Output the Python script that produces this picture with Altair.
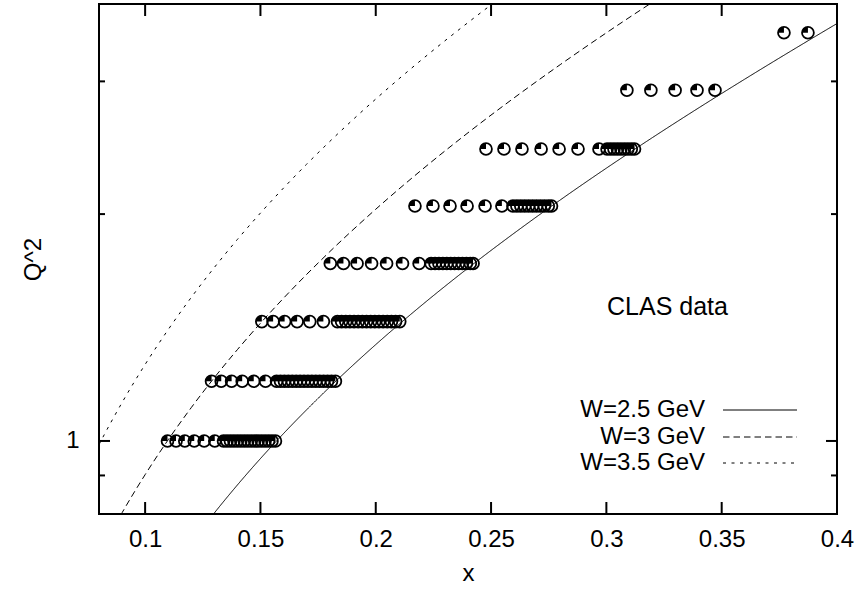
import altair as alt
import pandas as pd

# ---------------- data ----------------
q2_rows = [1.0, 1.2, 1.44, 1.72, 2.05, 2.44, 2.92, 3.48]

x_row_100 = [0.1097, 0.1134, 0.1172, 0.1213, 0.1256, 0.1302,
             0.1340, 0.1355, 0.1370, 0.1385, 0.1400, 0.1415, 0.1430, 0.1445,
             0.1460, 0.1475, 0.1490, 0.1505, 0.1520, 0.1535, 0.1550, 0.1565]
x_row_120 = [0.1288, 0.1330, 0.1375, 0.1421, 0.1471, 0.1522,
             0.1570, 0.1587, 0.1604, 0.1621, 0.1638, 0.1655, 0.1672, 0.1689,
             0.1706, 0.1723, 0.1740, 0.1757, 0.1774, 0.1791, 0.1808, 0.1825]
x_row_144 = [0.1506, 0.1555, 0.1605, 0.1659, 0.1714, 0.1773,
             0.1834, 0.1852, 0.1870, 0.1888, 0.1906, 0.1924, 0.1942, 0.1960,
             0.1978, 0.1996, 0.2014, 0.2032, 0.2050, 0.2068, 0.2086, 0.2104]
x_row_172 = [0.1803, 0.1860, 0.1919, 0.1982, 0.2047, 0.2116, 0.2188,
             0.2240, 0.2257, 0.2274, 0.2291, 0.2308, 0.2325, 0.2342, 0.2359,
             0.2376, 0.2393, 0.2410, 0.2422]
x_row_205 = [0.2170, 0.2248, 0.2322, 0.2396, 0.2474, 0.2547,
             0.2595, 0.2612, 0.2629, 0.2646, 0.2663, 0.2680, 0.2697, 0.2714,
             0.2731, 0.2748, 0.2762]
x_row_244 = [0.2478, 0.2556, 0.2634, 0.2717, 0.2795, 0.2877, 0.2968,
             0.3003, 0.3018, 0.3033, 0.3048, 0.3063, 0.3078, 0.3093, 0.3108, 0.3122]
x_row_292 = [0.3089, 0.3193, 0.3298, 0.3393, 0.3471]
x_row_348 = [0.3770, 0.3874]

x_rows = [x_row_100, x_row_120, x_row_144, x_row_172,
          x_row_205, x_row_244, x_row_292, x_row_348]

# W = const curves (x, Q^2)
w25_x = [0.125, 0.13, 0.14, 0.15, 0.16, 0.17, 0.18, 0.19, 0.20, 0.22, 0.24,
         0.26, 0.28, 0.30, 0.32, 0.34, 0.36, 0.38, 0.40, 0.41]
w25_q2 = [0.7671, 0.8024, 0.8741, 0.9476, 1.0228, 1.0998, 1.1787, 1.2595,
          1.3424, 1.5145, 1.6957, 1.8866, 2.0882, 2.3013, 2.5269, 2.7662,
          3.0204, 3.2910, 3.5797, 3.7311]
w30_x = [0.085, 0.09, 0.10, 0.11, 0.12, 0.13, 0.14, 0.15, 0.16, 0.18, 0.20,
         0.22, 0.24, 0.26, 0.28, 0.30, 0.32, 0.33]
w30_q2 = [0.7543, 0.8030, 0.9022, 1.0036, 1.1072, 1.2133, 1.3218, 1.4329,
          1.5466, 1.7823, 2.0299, 2.2901, 2.5641, 2.8528, 3.1576, 3.4798,
          3.8210, 3.9992]
w35_x = [0.075, 0.08, 0.09, 0.10, 0.11, 0.12, 0.13, 0.14, 0.15, 0.16, 0.17,
         0.18, 0.19, 0.20, 0.21, 0.22, 0.23, 0.24, 0.25, 0.26]
w35_q2 = [0.9219, 0.9887, 1.1245, 1.2633, 1.4052, 1.5504, 1.6989, 1.8508,
          2.0064, 2.1656, 2.3287, 2.4958, 2.6670, 2.8424, 3.0223, 3.2068,
          3.3961, 3.5904, 3.7899, 3.9947]

legend_labels = ["W=2.5 GeV", "W=3 GeV", "W=3.5 GeV"]
x_ticks = [0.1, 0.15, 0.2, 0.25, 0.3, 0.35, 0.4]
y_major = [1.0]
y_minor = [0.9, 2.0, 3.0]
x_domain = [0.08, 0.4]
y_domain = [0.8, 3.8]

# ---------------- build tables ----------------
pts = pd.DataFrame(
    [{"x": xv, "q2": q} for q, xs in zip(q2_rows, x_rows) for xv in xs]
)
c25 = pd.DataFrame({"x": w25_x, "q2": w25_q2})
c30 = pd.DataFrame({"x": w30_x, "q2": w30_q2})
c35 = pd.DataFrame({"x": w35_x, "q2": w35_q2})

W, H = 738, 510
FONT = "Liberation Sans"
SYM = 140

xs = alt.Scale(domain=x_domain, nice=False, zero=False)
ys = alt.Scale(type="log", domain=y_domain, nice=False)

X = alt.X("x:Q", scale=xs,
          axis=alt.Axis(values=x_ticks, format=".2~f", title="x", ticks=False,
                        domain=False, grid=False, labelFontSize=24,
                        titleFontSize=24, titleFontWeight="normal",
                        labelPadding=13, titlePadding=10, labelFont=FONT,
                        titleFont=FONT, labelColor="black", titleColor="black",
                        labelFlush=False, labelOverlap=False))
Y = alt.Y("q2:Q", scale=ys,
          axis=alt.Axis(values=[1], labelExpr="datum.value == 1 ? '1' : ''",
                        title="Q^2", ticks=False, domain=False, grid=False,
                        labelFontSize=24, titleFontSize=24,
                        titleFontWeight="normal", labelPadding=20,
                        titlePadding=20, labelFont=FONT, titleFont=FONT,
                        labelColor="black", titleColor="black",
                        labelFlush=False, labelOverlap=False))

layers = []

def curve(df, dash):
    return alt.Chart(df).mark_line(color="black", strokeWidth=1, clip=True,
                                   strokeDash=dash, interpolate="monotone").encode(
        x=alt.X("x:Q", scale=xs), y=alt.Y("q2:Q", scale=ys))

base = alt.Chart(pts).mark_point(shape="circle", filled=False, size=SYM,
                                 strokeWidth=1.8, color="black", opacity=1,
                                 clip=True).encode(x=X, y=Y)
layers.append(base)
quad = alt.Chart(pts).mark_point(shape="M0,0 L-1,0 A1,1 0 0,1 0,-1 Z",
                                 filled=True, size=SYM, color="black",
                                 opacity=1, clip=True).encode(
    x=alt.X("x:Q", scale=xs), y=alt.Y("q2:Q", scale=ys))
layers.append(quad)

layers.append(curve(c25, [1, 0]))
layers.append(curve(c30, [6.5, 4]))
layers.append(curve(c35, [3, 5.5]))

# inward ticks (gnuplot style) on all four sides
xt = pd.DataFrame({"x": x_ticks[:-1]})
ymj = pd.DataFrame({"q2": y_major})
ymn = pd.DataFrame({"q2": y_minor})
for y0, y1 in [(H - 12, H), (0, 12)]:
    layers.append(alt.Chart(xt).mark_rule(color="black", strokeWidth=2).encode(
        x=alt.X("x:Q", scale=xs), y=alt.value(y0), y2=alt.value(y1)))
for df, ln in [(ymj, 11), (ymn, 6)]:
    for x0, x1 in [(0, ln), (W - ln, W)]:
        layers.append(alt.Chart(df).mark_rule(color="black", strokeWidth=2).encode(
            y=alt.Y("q2:Q", scale=ys), x=alt.value(x0), x2=alt.value(x1)))

# annotation
layers.append(alt.Chart(pd.DataFrame({"t": ["CLAS data"]})).mark_text(
    font=FONT, fontSize=25, align="left", baseline="middle", color="black").encode(
    text="t:N", x=alt.value(508), y=alt.value(303)))

# legend (labels right-aligned, sample line to the right)
leg_y = [406, 433, 459]
dashes = [[1, 0], [6.5, 4], [3, 5.5]]
for lab, yy, dd in zip(legend_labels, leg_y, dashes):
    layers.append(alt.Chart(pd.DataFrame({"t": [lab]})).mark_text(
        font=FONT, fontSize=24, align="right", baseline="middle",
        color="black").encode(text="t:N", x=alt.value(606), y=alt.value(yy)))
    layers.append(alt.Chart(pd.DataFrame({"t": [lab]})).mark_rule(
        color="black", strokeWidth=1, strokeDash=dd).encode(
        x=alt.value(624), x2=alt.value(698), y=alt.value(yy)))

chart = alt.layer(*layers).properties(
    width=W, height=H,
    padding={"left": 99, "top": 4, "right": 22, "bottom": 80},
    autosize=alt.AutoSizeParams(type="none"),
    background="white",
).configure_view(stroke="black", strokeWidth=2).configure_axis(
    labelFont=FONT, titleFont=FONT)

chart.save("out.html", embed_options={"renderer": "svg", "actions": False})
